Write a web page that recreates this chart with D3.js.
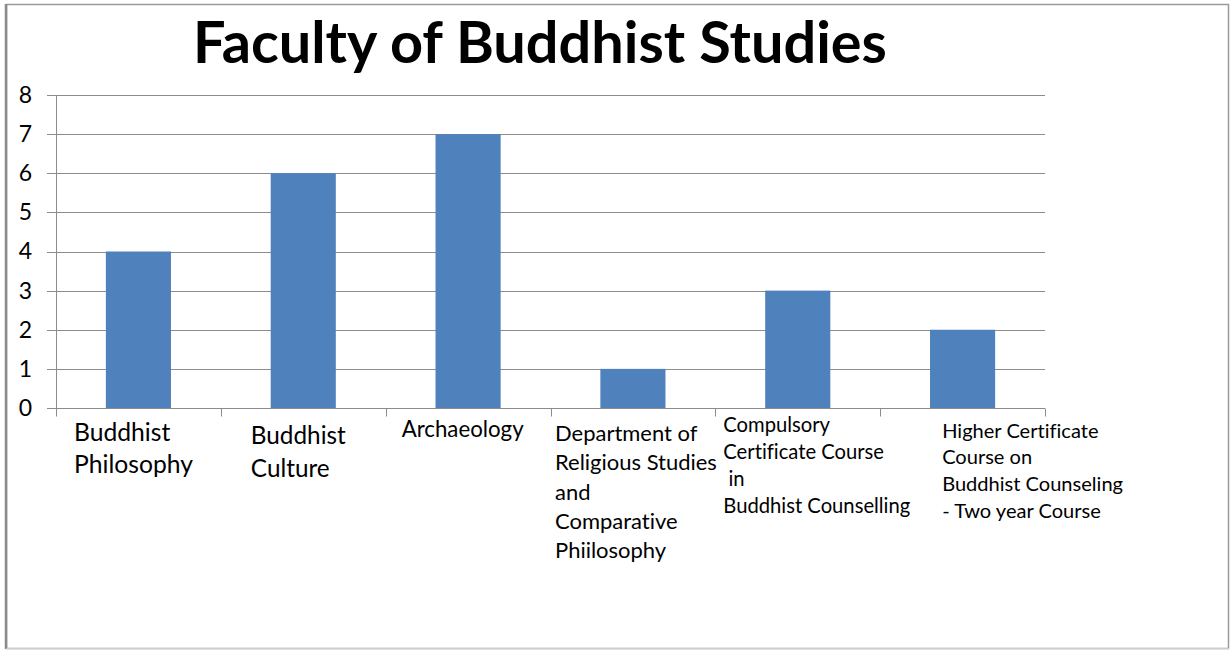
<!DOCTYPE html>
<html>
<head>
<meta charset="utf-8">
<script src="https://cdn.jsdelivr.net/npm/d3@7"></script>
<style>
  html, body { margin: 0; padding: 0; background: #fff; }
  svg { display: block; font-family: Lato, "Open Sans", sans-serif; font-variant-ligatures: none; font-feature-settings: "liga" 0, "clig" 0; }
</style>
</head>
<body>
<div id="chart"></div>
<script>
(function() {
  'use strict';

  // data
  var categories = [
    'Buddhist Philosophy',
    'Buddhist Culture',
    'Archaeology',
    'Department of Religious Studies and Comparative Phiilosophy',
    'Compulsory Certificate Course in Buddhist Counselling',
    'Higher Certificate Course on Buddhist Counseling - Two year Course'
  ];
  var values = [4, 6, 7, 1, 3, 2];
  var labelLines = [
    ['Buddhist', 'Philosophy'],
    ['Buddhist', 'Culture'],
    ['Archaeology'],
    ['Department of', 'Religious Studies', 'and', 'Comparative', 'Phiilosophy'],
    ['Compulsory', 'Certificate Course', ' in', 'Buddhist Counselling'],
    ['Higher Certificate', 'Course on', 'Buddhist Counseling', '- Two year Course']
  ];
  var yTicks = [0, 1, 2, 3, 4, 5, 6, 7, 8];
  var title = 'Faculty of Buddhist Studies';

  // layout of the free-standing category labels (as placed in the original)
  // dx: offset from band start, base: first baseline, lh: line height, ref/width: fit
  var labelLayout = [
    { dx: 18, base: 441, lh: 32, ref: 'Philosophy', width: 119 },
    { dx: 30, base: 443.5, lh: 33, ref: 'Buddhist', width: 95 },
    { dx: 16, base: 437, lh: 32, ref: 'Archaeology', width: 122 },
    { dx: 4.5, base: 441, lh: 29.3, ref: 'Religious Studies', width: 162 },
    { dx: 8, base: 432, lh: 27, ref: 'Buddhist Counselling', width: 187 },
    { dx: 62, base: 437.5, lh: 26.8, ref: 'Buddhist Counseling', width: 181 }
  ];

  var W = 1230, H = 650;
  var margin = { top: 95, left: 56, right: 185, bottom: 242 };
  var width = W - margin.left - margin.right,
    height = H - margin.top - margin.bottom;

  var svg = d3.select('#chart').append('svg')
    .attr('width', W)
    .attr('height', H);

  // frame
  svg.append('rect')
    .attr('x', 6.5).attr('y', 4.5)
    .attr('width', 1222).attr('height', 644)
    .attr('fill', '#fff')
    .attr('stroke', '#9a9a9a')
    .attr('stroke-width', 1.5);
  svg.append('line')
    .attr('x1', 6).attr('x2', 6).attr('y1', 4).attr('y2', 649)
    .attr('stroke', '#8a8a8a').attr('stroke-width', 2.5);
  svg.append('line')
    .attr('x1', 6).attr('x2', 1229).attr('y1', 649).attr('y2', 649)
    .attr('stroke', '#dedede').attr('stroke-width', 1.5);

  function fitSize(str, target, weight) {
    var t = svg.append('text')
      .style('font-size', '20px')
      .style('font-weight', weight || 'normal')
      .text(str);
    var w = t.node().getComputedTextLength();
    t.remove();
    return 20 * target / w;
  }

  // title
  var titleSize = fitSize(title, 694, 'bold');
  svg.append('text')
    .attr('class', 'title')
    .attr('x', 193)
    .attr('y', 63)
    .style('font-size', titleSize + 'px')
    .style('font-weight', 'bold')
    .attr('fill', '#000')
    .text(title);

  var g = svg.append('g')
    .attr('transform', 'translate(' + margin.left + ',' + margin.top + ')');

  var x = d3.scaleBand()
    .domain(categories)
    .range([0, width])
    .paddingInner(0.605)
    .paddingOuter(0.3025);

  var y = d3.scaleLinear()
    .domain([0, 8])
    .range([height, 0]);

  // gridlines
  g.append('g')
    .attr('class', 'grid')
    .selectAll('line')
    .data(yTicks)
    .enter().append('line')
    .attr('x1', -9)
    .attr('x2', width)
    .attr('y1', function(d) { return Math.round(y(d)) + 0.5; })
    .attr('y2', function(d) { return Math.round(y(d)) + 0.5; })
    .attr('stroke', '#8c8c8c')
    .attr('stroke-width', 1);

  // y axis
  var yAxis = d3.axisLeft(y)
    .tickValues(yTicks)
    .tickSize(0)
    .tickPadding(24)
    .tickFormat(d3.format('d'));
  var ya = g.append('g').attr('class', 'y axis').call(yAxis);
  ya.select('.domain').remove();
  ya.selectAll('text')
    .style('font-size', '23px')
    .style('font-family', 'Lato, sans-serif')
    .attr('fill', '#000');
  g.append('line')
    .attr('x1', 0.5).attr('x2', 0.5)
    .attr('y1', 0).attr('y2', height)
    .attr('stroke', '#8c8c8c');

  // bars
  g.selectAll('.bar')
    .data(values)
    .enter().append('rect')
    .attr('class', 'bar')
    .attr('x', function(d, i) { return x(categories[i]); })
    .attr('width', x.bandwidth())
    .attr('y', function(d) { return y(d); })
    .attr('height', function(d) { return height - y(d); })
    .attr('fill', '#4f81bd');

  // x axis with ticks at band boundaries
  var xAxis = g.append('g')
    .attr('class', 'x axis')
    .attr('transform', 'translate(0,' + (Math.round(height) + 0.5) + ')');
  xAxis.append('line')
    .attr('x1', 0).attr('x2', width)
    .attr('stroke', '#8c8c8c');
  var bounds = categories.map(function(c) { return x(c) - x.step() * x.paddingInner() / 2; });
  bounds.push(width);
  xAxis.selectAll('.tick')
    .data(bounds)
    .enter().append('line')
    .attr('class', 'tick')
    .attr('x1', function(d) { return Math.round(d) + 0.5; })
    .attr('x2', function(d) { return Math.round(d) + 0.5; })
    .attr('y1', 0).attr('y2', 8)
    .attr('stroke', '#8c8c8c');

  // category labels
  var labels = svg.append('g').attr('class', 'x labels');
  labelLines.forEach(function(lines, i) {
    var L = labelLayout[i];
    var x0 = margin.left + bounds[i] + L.dx;
    var size = fitSize(L.ref, L.width);
    var t = labels.append('text')
      .attr('x', x0)
      .attr('y', L.base)
      .style('font-size', size + 'px')
      .style('white-space', 'pre')
      .attr('fill', '#000');
    t.selectAll('tspan')
      .data(lines)
      .enter().append('tspan')
      .attr('x', x0)
      .attr('y', function(d, j) { return L.base + j * L.lh; })
      .attr('xml:space', 'preserve')
      .text(function(d) { return d; });
  });
})();
</script>
</body>
</html>
